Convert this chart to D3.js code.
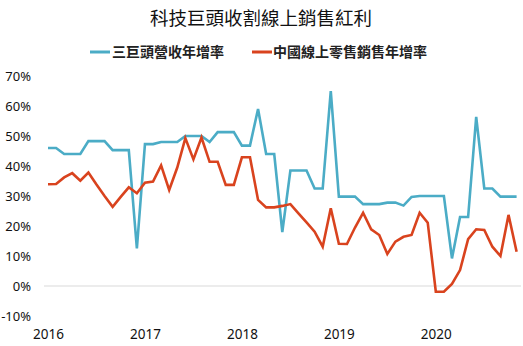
<!DOCTYPE html>
<html><head><meta charset="utf-8">
<script src="https://cdn.jsdelivr.net/npm/d3@7"></script>
<style>
html,body{margin:0;padding:0;background:#fff;}
svg{display:block;font-family:"Noto Sans CJK TC","Noto Sans",sans-serif;}
</style></head>
<body>
<svg id="c" width="523" height="346"></svg>
<script>
const title = "科技巨頭收割線上銷售紅利";
const seriesNames = ["三巨頭營收年增率", "中國線上零售銷售年增率"];
const yearLabels = ["2016", "2017", "2018", "2019", "2020"];
const yTicks = [-10, 0, 10, 20, 30, 40, 50, 60, 70];
// monthly, Jan 2016 .. Nov 2020
const bigThree = [46,46,44,44,44,48.3,48.3,48.3,45.3,45.3,45.3,12.5,
  47.3,47.3,48,48,48,50,50,50,48,51.3,51.3,51.3,
  46.8,46.8,59,44,44,18,38.5,38.5,38.5,32.5,32.5,65,
  29.8,29.8,29.8,27.3,27.3,27.3,27.8,27.8,26.8,29.7,30,30,
  30,30,9.2,23,23,56.4,32.5,32.5,29.8,29.8,29.8];
const chinaOnline = [33.9,34,36.2,37.6,35.1,37.8,33.8,30,26.4,29.7,32.9,30.9,
  34.4,34.8,40.2,32,39.5,49.3,42.2,49.5,41.4,41.4,33.7,33.7,
  42.9,42.9,28.7,26.2,26.2,26.7,27.3,24.2,21.2,18.1,13.1,25.9,
  14.1,14,19.5,24.4,18.9,17,10.7,14.8,16.4,17,24.4,21.1,
  -1.9,-1.9,0.7,5.3,15.6,18.9,18.7,13.1,10,23.7,11.4];
const colors = ["#4bacc6", "#d9431e"];

const svg = d3.select("#c");
const x = d3.scaleLinear().domain([0, 58]).range([48, 516.6]);
const y = d3.scaleLinear().domain([-10, 70]).range([316, 76]);

svg.append("text").attr("x", 261).attr("y", 25).attr("text-anchor", "middle")
  .attr("font-size", 18.5).attr("fill", "#111").text(title);

// legend
const lg = [{x0: 90, tx: 112}, {x0: 252, tx: 273}];
seriesNames.forEach((n, i) => {
  svg.append("line").attr("x1", lg[i].x0).attr("x2", lg[i].x0 + 20)
    .attr("y1", 52).attr("y2", 52).attr("stroke", colors[i]).attr("stroke-width", 3);
  svg.append("text").attr("x", lg[i].tx).attr("y", 57).attr("font-size", 14)
    .attr("font-weight", "bold").attr("fill", "#222").text(n);
});

// y axis labels
const yAxis = d3.axisLeft(y).tickValues(yTicks).tickFormat(d => d + "%").tickSize(0).tickPadding(0);
const ga = svg.append("g").attr("transform", "translate(31,0)").call(yAxis);
ga.select(".domain").remove();
ga.selectAll("text").attr("font-size", 13).attr("fill", "#111")
  .attr("font-family", "'Noto Sans',sans-serif");

// x axis labels
const xAxis = d3.axisBottom(x).tickValues([0, 12, 24, 36, 48]).tickFormat((d, i) => yearLabels[i]).tickSize(0).tickPadding(0);
const gx = svg.append("g").attr("transform", "translate(0,329)").call(xAxis);
gx.select(".domain").remove();
gx.selectAll("text").attr("font-size", 13.5).attr("fill", "#111")
  .attr("font-family", "'Noto Sans',sans-serif");

// zero line
svg.append("line").attr("x1", 44).attr("x2", 521).attr("y1", y(0)).attr("y2", y(0))
  .attr("stroke", "#d9d9d9").attr("stroke-width", 1);

const line = d3.line().x((d, i) => x(i)).y(d => y(d));
[bigThree, chinaOnline].forEach((s, i) => {
  svg.append("path").datum(s).attr("d", line).attr("fill", "none")
    .attr("stroke", colors[i]).attr("stroke-width", 2.6).attr("stroke-linejoin", "miter");
});
</script>
</body></html>
